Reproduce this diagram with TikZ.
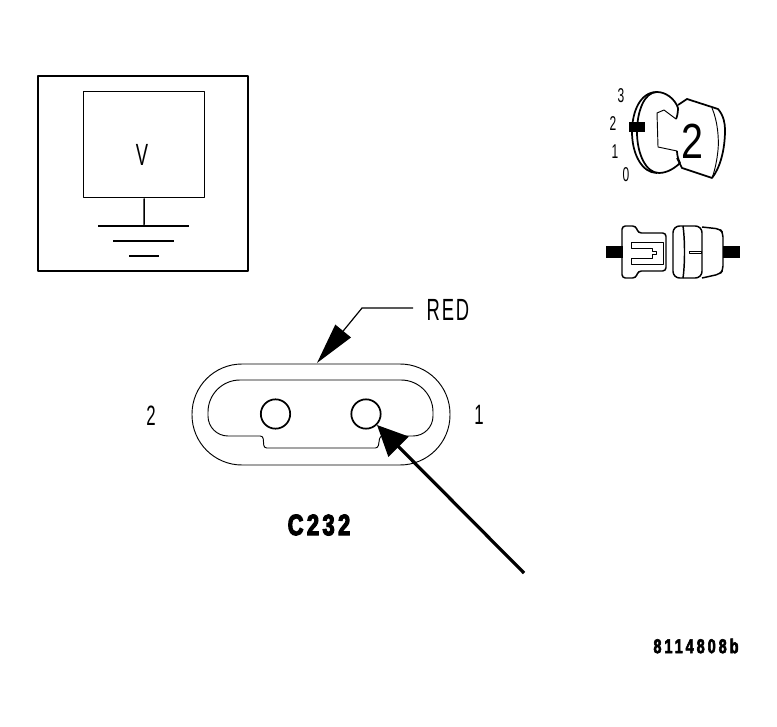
\documentclass[tikz,border=0pt]{standalone}
\usepackage{fontspec}
\usetikzlibrary{arrows.meta}
\newfontfamily\cadfont[FakeStretch=0.6,LetterSpace=6]{Liberation Sans}
\newfontfamily\keyfont[FakeStretch=0.8]{Liberation Sans}
\newfontfamily\cadbold[FakeStretch=0.74,LetterSpace=12,FakeBold=4]{Liberation Sans Bold}
\newfontfamily\figbold[FakeStretch=0.72,LetterSpace=15,FakeBold=3]{Liberation Sans Bold}
\tikzset{
  thinline/.style={line width=.7pt,line join=round},
  boxline/.style={line width=1.1pt,line join=round},
  heavyline/.style={line width=1.3pt,line join=round},
  wire/.style={fill=black,draw=none},
  cadtext/.style={inner sep=0pt,font=\cadfont\fontsize{#1}{#1}\selectfont},
  cadtext/.default=23pt,
  redtip/.style={-{Triangle[length=31pt,width=15pt]}},
  mainarrow/.style={line width=2.4pt,-{Triangle[length=23pt,width=21pt]}}
}
\begin{document}
\begin{tikzpicture}[x=.75pt,y=-.75pt]
\useasboundingbox (0,0) rectangle (777,727);

\draw[boxline] (38,76) rectangle (248,271);
\draw (83,91) node(METER)[anchor=north west,boxline,draw,minimum width=90.75pt,minimum height=79.5pt,inner sep=0pt]{};
\draw (142,155) node(V)[cadtext]{V};
\draw (144,226) coordinate(EARTH);
\draw[boxline] (METER.south) -- (EARTH);
\draw[boxline] (98,226) -- (189,226);
\draw[boxline] (113,241) -- (174,241);
\draw[boxline] (129,256) -- (159,256);

\draw (621,96) node(POSTHREE)[cadtext=15pt]{3};
\draw (613,124) node(POSTWO)[cadtext=15pt]{2};
\draw (615,152) node(POSONE)[cadtext=15pt]{1};
\draw (626,175) node(POSZERO)[cadtext=15pt]{0};
\draw (692,141) node(KEYNUM)[inner sep=0pt,font=\keyfont\fontsize{37pt}{37pt}\selectfont]{2};

\draw[heavyline] (657,92) .. controls (640,92) and (632,112) .. (632,132) .. controls (632,154) and (642,173) .. (657,173);
\draw[heavyline] (657,92) .. controls (644,92) and (637,112) .. (637,132) .. controls (637,154) and (646,173) .. (659,173);
\draw[heavyline] (657,92) .. controls (666,92) and (675,99) .. (678,108) .. controls (678,113) and (677,117) .. (676,119);
\draw[heavyline] (659,173) .. controls (668,173) and (676,167) .. (680,163) .. controls (678,159) and (677,155) .. (677,151);
\draw[thinline] (676,119) -- (664,110) -- (657,113) -- (658,147) -- (677,151);
\draw[heavyline] (678,105) -- (687,99) -- (718,109) .. controls (724,116) and (725,124) .. (725,130) .. controls (725,150) and (720,168) .. (712,178) -- (682,168) -- (677,158);
\draw[thinline] (712,108) .. controls (718,122) and (719,140) .. (718,150) .. controls (717,160) and (715,170) .. (712,178);
\fill[wire] (629,122) rectangle (645,132);

\draw[wire] (606,246) rectangle (623,258);
\draw[wire] (723,246) rectangle (740,258);
\draw[boxline,rounded corners=2.5pt] (622,252) -- (622,226) -- (636,226) -- (638,233) -- (666,233) -- (666,271) -- (638,271) -- (636,278) -- (622,278) -- cycle;
\draw[thinline] (631,242) -- (663,242) -- (663,264) -- (631,264) -- (631,258) -- (652,258) -- (652,254) -- (656,254) -- (656,251) -- (652,251) -- (652,248) -- (631,248) -- cycle;
\draw[boxline,rounded corners=5pt] (673,226) rectangle (702,278);
\draw[boxline] (683,226) .. controls (685,240) and (685,264) .. (683,278);
\draw[boxline,rounded corners=3pt] (702,227) -- (720,229) -- (723,233) -- (723,270) -- (720,274) -- (702,278);
\draw[thinline] (689,251) rectangle (701,253);

\draw[thinline,rounded corners=37.5pt] (192,364) rectangle (450,465);
\draw[thinline] (320,380) [rounded corners=24pt] -- (208,380) [rounded corners=15pt] -- (208,436) [rounded corners=2pt] -- (263,436) -- (264,448) -- (378,448) -- (380,436) [rounded corners=15pt] -- (433,436) [rounded corners=24pt] -- (433,380) -- cycle;
\draw (275.5,414) node(PINTWO)[circle,heavyline,draw,minimum size=22pt,inner sep=0pt]{};
\draw (366,414) node(PINONE)[circle,heavyline,draw,minimum size=22pt,inner sep=0pt]{};

\draw (151,416) node(LABTWO)[cadtext=21pt]{2};
\draw (479,415) node(LABONE)[cadtext=21pt]{1};
\draw (448,310) node(RED)[cadtext]{RED};
\draw (413,308) coordinate(REDEND);
\draw (362,308) coordinate(BEND);
\draw (317,363) coordinate(SHELL);
\draw[line width=.9pt,redtip] (REDEND) -- (BEND) -- (SHELL);

\draw (524,573) coordinate(PROBE);
\draw[mainarrow] (PROBE) -- (PINONE.south east);

\draw (319,525) node(CNAME)[inner sep=0pt,font=\cadbold\fontsize{22pt}{22pt}\selectfont]{C232};
\draw (696,646) node(FIGNUM)[inner sep=0pt,font=\figbold\fontsize{15pt}{15pt}\selectfont]{8114808b};

\end{tikzpicture}
\end{document}
